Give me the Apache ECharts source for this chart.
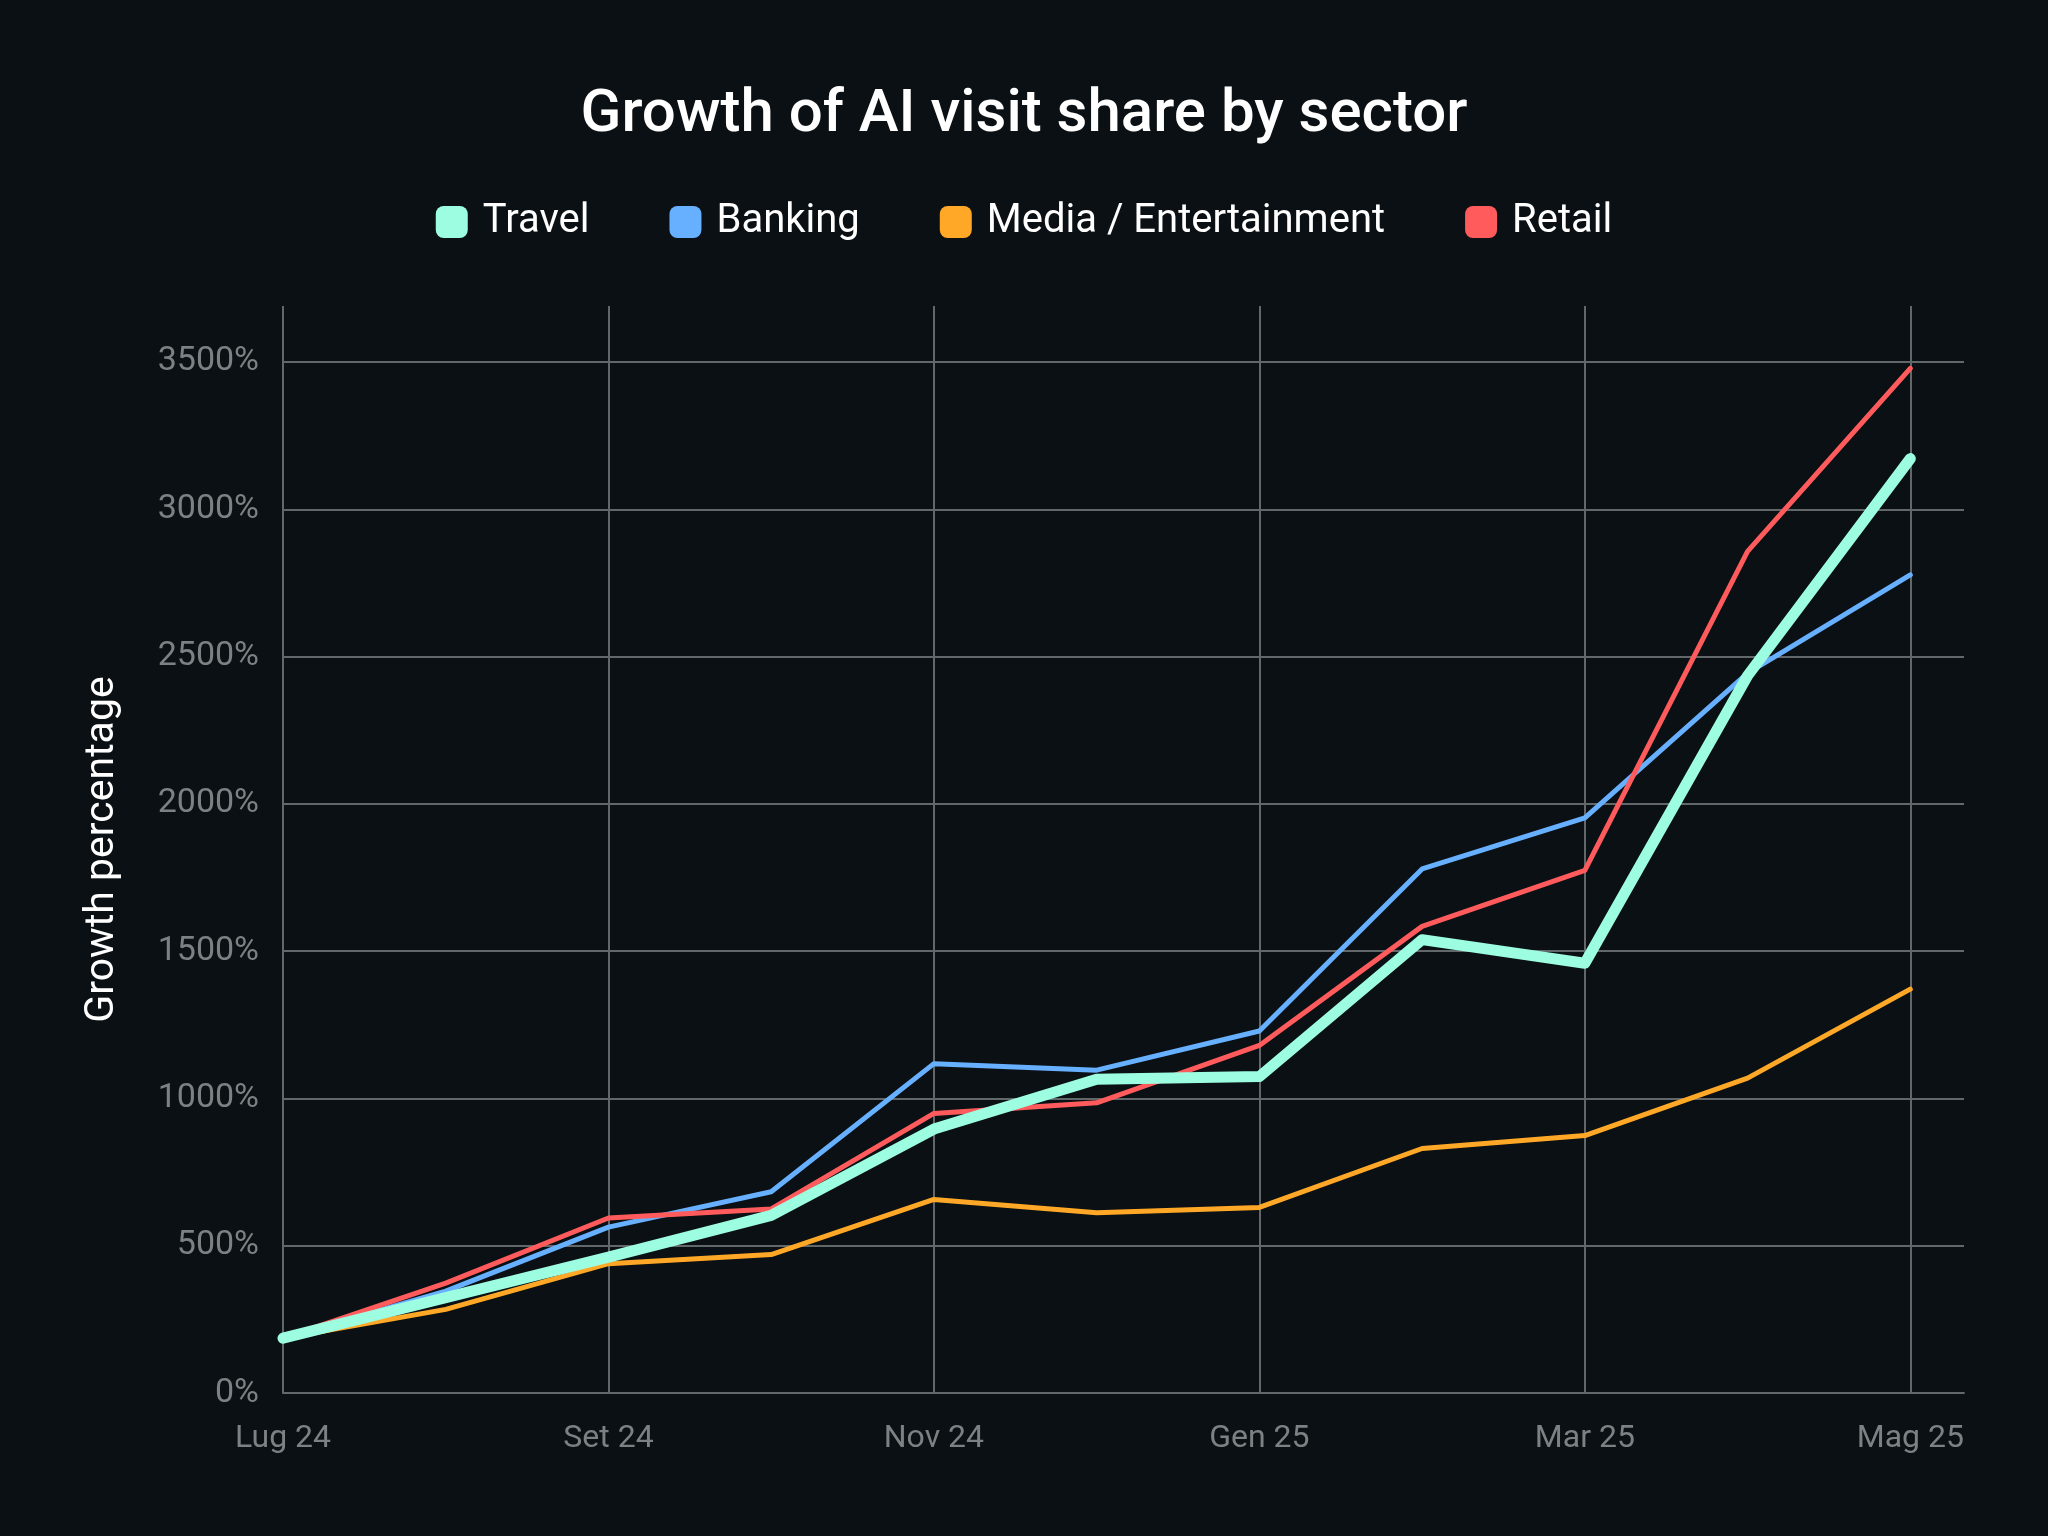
<!DOCTYPE html>
<html>
<head>
<meta charset="utf-8">
<script src="https://cdn.jsdelivr.net/npm/echarts@6/dist/echarts.min.js"></script>
<style>
html,body{margin:0;padding:0;background:#0a1013;}
#c{width:2048px;height:1536px;}
</style>
</head>
<body>
<div id="c"></div>
<script>
const months = ['Lug 24','Ago 24','Set 24','Ott 24','Nov 24','Dic 24','Gen 25','Feb 25','Mar 25','Apr 25','Mag 25'];
const seriesNames = ['Travel','Banking','Media / Entertainment','Retail'];
const travel  = [186, 324, 461, 603, 896, 1065, 1074, 1539, 1459, 2435, 3172];
const banking = [186, 346, 563, 683, 1118, 1096, 1229, 1779, 1952, 2444, 2777];
const media   = [186, 284, 439, 470, 657, 612, 630, 830, 874, 1069, 1371];
const retail  = [186, 373, 594, 625, 949, 985, 1180, 1584, 1774, 2857, 3478];
const yTicks = [0, 500, 1000, 1500, 2000, 2500, 3000, 3500];

const colors = {
  'Travel': '#9cfde0',
  'Banking': '#67b0ff',
  'Media / Entertainment': '#ffa726',
  'Retail': '#ff5b5d'
};
const toPairs = arr => arr.map((v, i) => [i, v]);
const gridColor = '#62676a';
const labelColor = '#7c8183';
const font = 'Roboto';

function line(name, data, width, z) {
  return {
    name: name,
    type: 'line',
    data: toPairs(data),
    symbol: 'none',
    z: z,
    color: colors[name],
    lineStyle: { width: width, color: colors[name], cap: 'round', join: 'round' },
    emphasis: { disabled: true }
  };
}

const chart = echarts.init(document.getElementById('c'), null, { renderer: 'canvas' });
chart.setOption({
  backgroundColor: '#0a1013',
  animation: false,
  title: {
    text: 'Growth of AI visit share by sector',
    left: 'center',
    top: 76,
    textStyle: { color: '#ffffff', fontFamily: font, fontSize: 60, fontWeight: 500, lineHeight: 70 }
  },
  legend: {
    data: seriesNames,
    top: 193,
    left: 'center',
    icon: 'roundRect',
    itemWidth: 32,
    itemHeight: 32,
    itemGap: 80,
    textStyle: { color: '#ffffff', fontFamily: font, fontSize: 40, lineHeight: 48, padding: [0, 0, 0, 10] }
  },
  grid: { left: 283, right: 84, top: 306, bottom: 143, containLabel: false },
  xAxis: {
    type: 'value',
    min: 0,
    max: 10.33,
    interval: 2,
    axisLine: { show: true, lineStyle: { color: gridColor, width: 2 } },
    axisTick: { show: false },
    axisLabel: {
      color: labelColor, fontFamily: font, fontSize: 32, margin: 30,
      showMaxLabel: false,
      formatter: v => (Number.isInteger(v) ? (months[v] || '') : '')
    },
    splitLine: { show: true, showMaxLine: false, lineStyle: { color: gridColor, width: 2 } }
  },
  yAxis: {
    type: 'value',
    min: 0,
    max: 3690,
    interval: 500,
    name: 'Growth percentage',
    nameLocation: 'middle',
    nameGap: 160,
    nameTextStyle: { color: '#ffffff', fontFamily: font, fontSize: 41 },
    axisLine: { show: false },
    axisTick: { show: false },
    axisLabel: {
      color: labelColor, fontFamily: font, fontSize: 34, margin: 24,
      showMaxLabel: false,
      formatter: v => (yTicks.indexOf(v) >= 0 ? v + '%' : '')
    },
    splitLine: { show: true, showMaxLine: false, lineStyle: { color: gridColor, width: 2 } }
  },
  series: [
    line('Banking', banking, 5, 2),
    line('Media / Entertainment', media, 5, 2),
    line('Retail', retail, 5, 2),
    line('Travel', travel, 11, 3)
  ]
});
</script>
</body>
</html>
